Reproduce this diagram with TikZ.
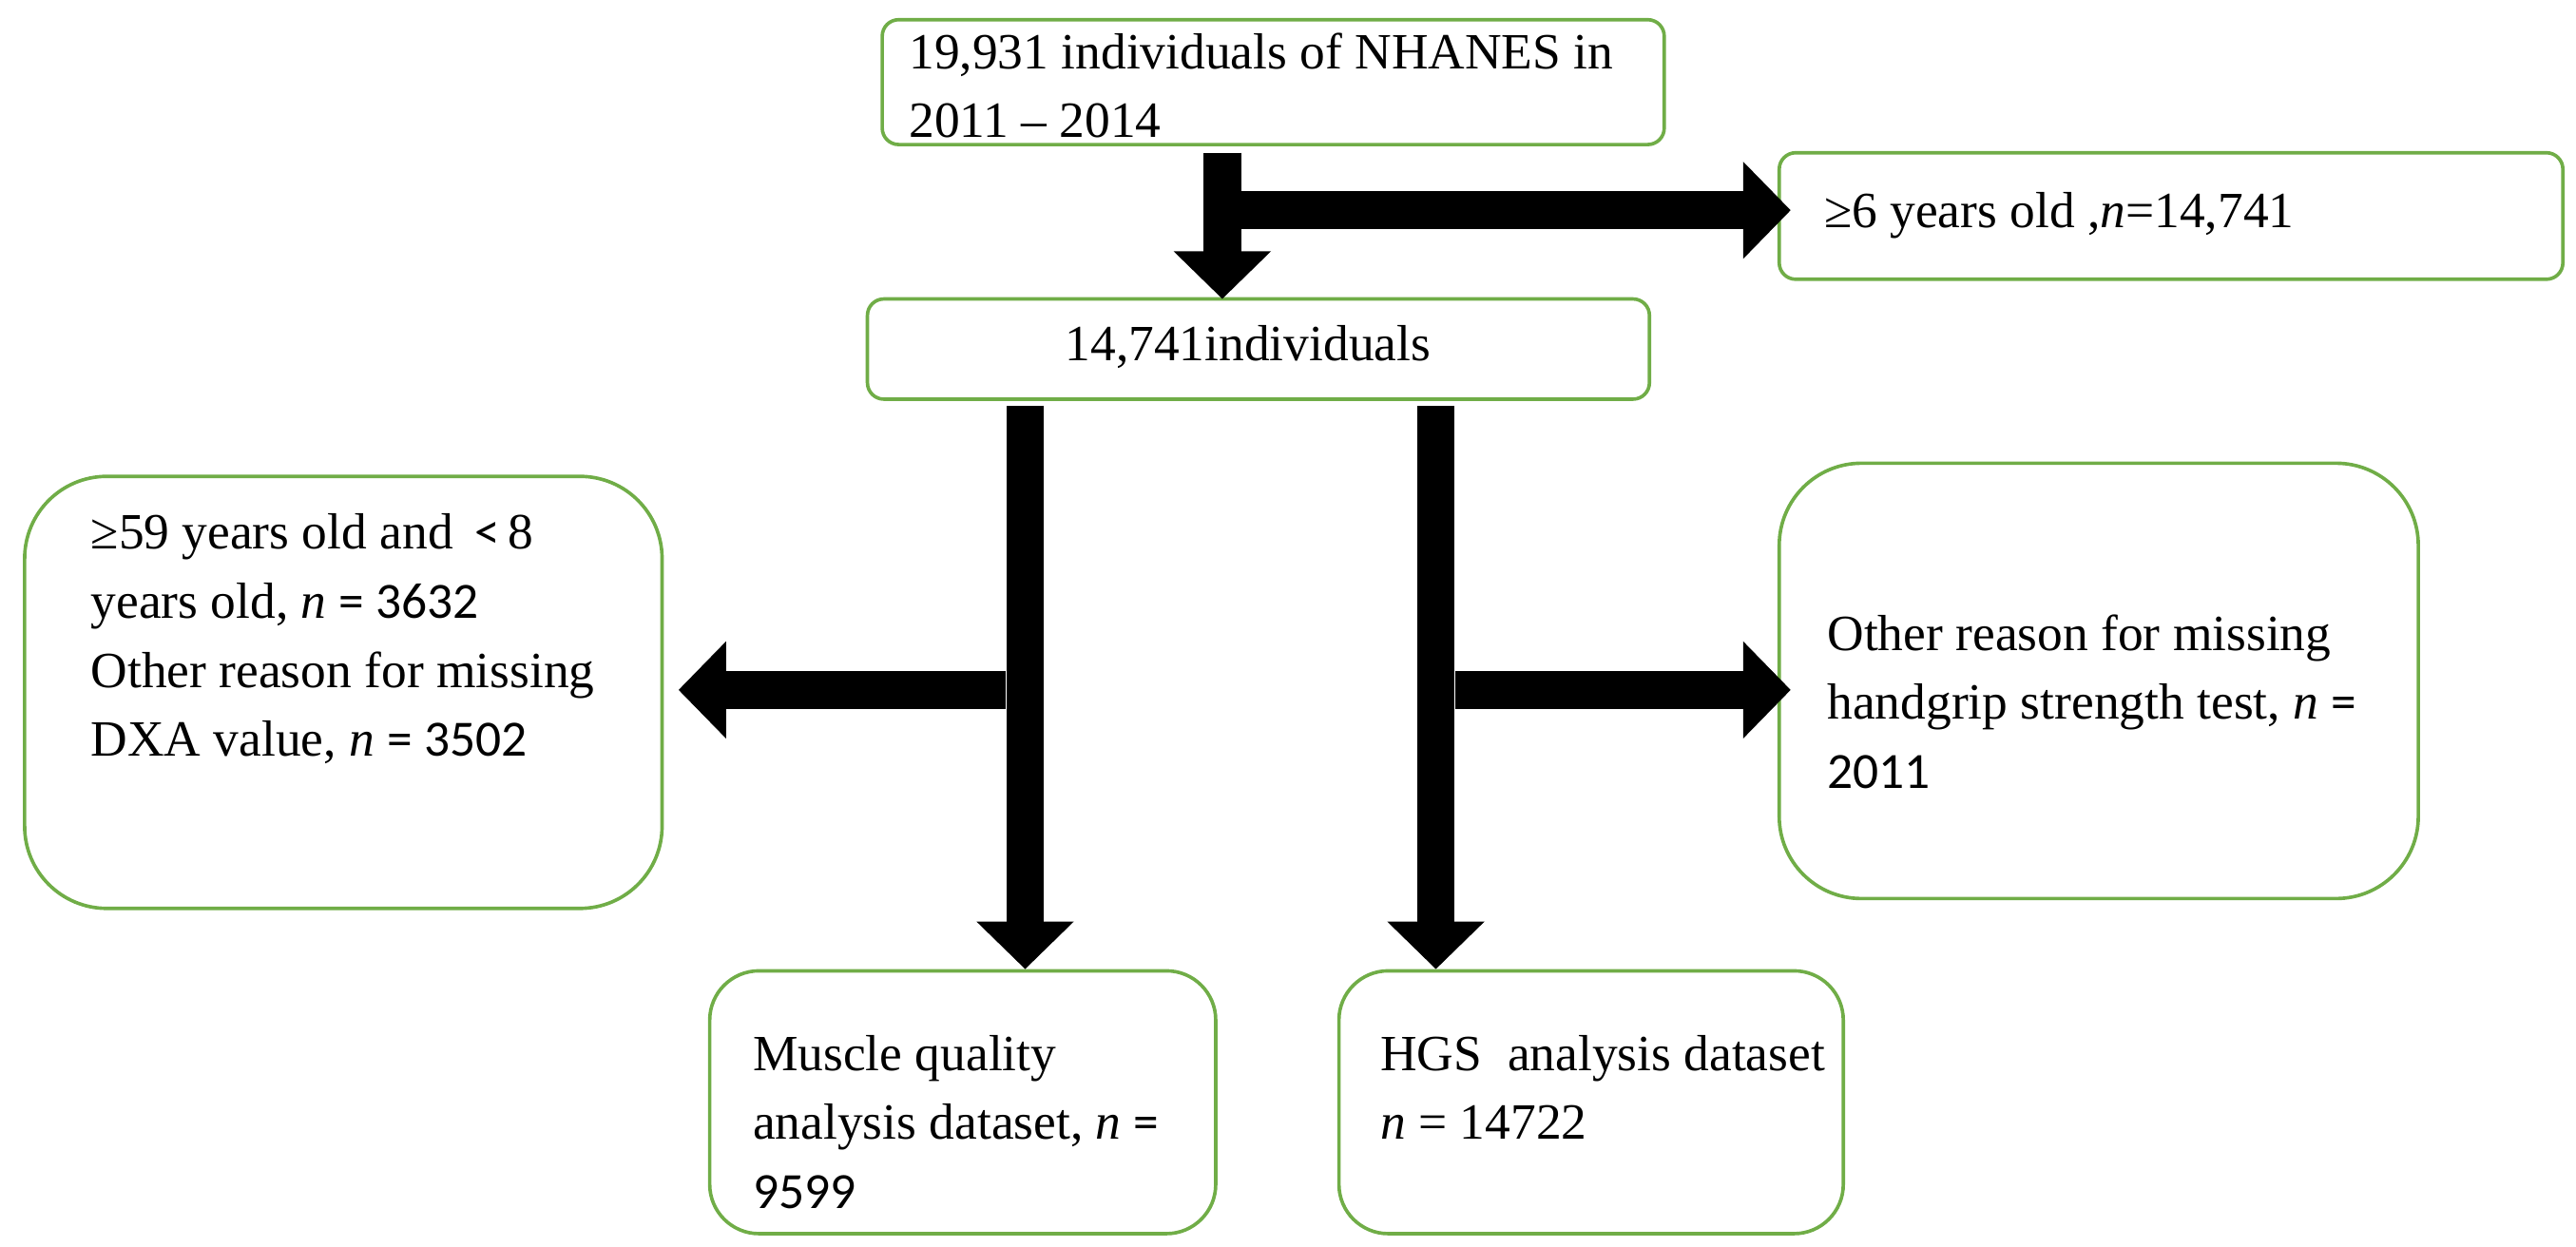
\documentclass[tikz,border=0pt]{standalone}
\usepackage{fontspec}
\setmainfont{Liberation Serif}
\newfontfamily\carl{Carlito}
\usetikzlibrary{arrows.meta}
\definecolor{grn}{RGB}{112,173,71}
\begin{document}
\begin{tikzpicture}[x=0.02cm,y=-0.02cm,
  box/.style={draw=grn,line width=1.2pt},
  txt/.style={anchor=west,inner sep=0pt,align=left,font=\fontsize{17.6}{23.9}\selectfont},
  arr/.style={line width=0.46cm,-{Triangle[width=1.15cm,length=0.58cm]}}]
\useasboundingbox (0,0) rectangle (1568,759);
% boxes
\draw[box,rounded corners=0.2cm] (537,12) rectangle (1013,88);
\draw[box,rounded corners=0.2cm] (1083,93) rectangle (1560,170);
\draw[box,rounded corners=0.2cm] (528,182) rectangle (1004,243);
\draw[box,rounded corners=1cm] (15,290) rectangle (403,553);
\draw[box,rounded corners=1cm] (1083,282) rectangle (1472,547);
\draw[box,rounded corners=0.6cm] (432,591) rectangle (740,751);
\draw[box,rounded corners=0.6cm] (815,591) rectangle (1122,751);
% texts
\node[txt] (t1) at (553,52) {19,931 individuals of NHANES in\\2011 – 2014};
\node[txt] (t2) at (1110,131) {≥6 years old ,\textit{n}=14,741};
\node[txt] (t3) at (648,211) {14,741individuals};
\node[txt] (t4) at (55,389) {≥59 years old and {\carl\,<\,}8\\years old, \textit{n} {\carl = 3632}\\Other reason for missing\\DXA value, \textit{n} {\carl = 3502}};
\node[txt] (t5) at (1112,427) {Other reason for missing\\handgrip strength test, \textit{n} {\carl =}\\{\carl 2011}};
\node[txt] (t6) at (458,683) {Muscle quality\\analysis dataset, \textit{n} {\carl =}\\{\carl 9599}};
\node[txt] (t7) at (840,662) {HGS~ analysis dataset\\\textit{n} = 14722};
% arrows
\coordinate (a0) at (744,93); \coordinate (a1) at (744,182);
\coordinate (b0) at (755,128); \coordinate (b1) at (1090,128);
\coordinate (c0) at (624,247); \coordinate (c1) at (624,590);
\coordinate (d0) at (874,247); \coordinate (d1) at (874,590);
\coordinate (e0) at (612,420); \coordinate (e1) at (413,420);
\coordinate (f0) at (886,420); \coordinate (f1) at (1090,420);
\draw[arr] (a0) -- (a1);
\draw[arr] (b0) -- (b1);
\draw[arr] (c0) -- (c1);
\draw[arr] (d0) -- (d1);
\draw[arr] (e0) -- (e1);
\draw[arr] (f0) -- (f1);
\end{tikzpicture}
\end{document}
